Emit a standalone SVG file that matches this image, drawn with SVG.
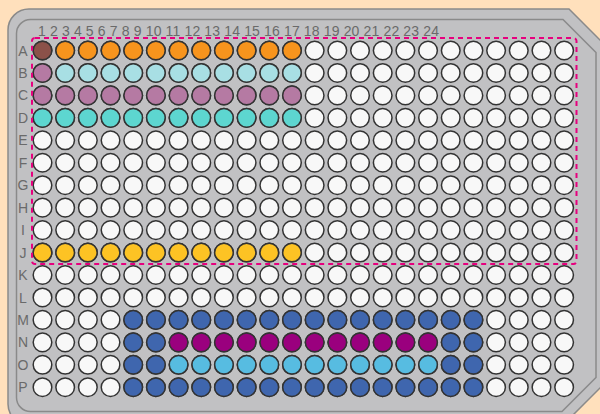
<svg xmlns="http://www.w3.org/2000/svg" width="600" height="414" viewBox="0 0 600 414">
<defs>
<style>
.lbl{font-family:"Liberation Sans","DejaVu Sans",sans-serif;font-size:14px;fill:#6a6a6a}
.rl{text-anchor:middle}
circle{stroke:#333;stroke-width:1.5}
.w{fill:#f8f8f8}.or{fill:#f7941d}.br{fill:#8b5149}.mv{fill:#b57aa3}.lc{fill:#a8dfe4}.tq{fill:#5dd6d0}.gd{fill:#fdc324}.bl{fill:#3f66ae}.pu{fill:#9a007e}.lb{fill:#57bce1}
</style>
<g id="row">
<circle cx="42.5" r="9.3"/><circle cx="65.18" r="9.3"/><circle cx="87.86" r="9.3"/><circle cx="110.54" r="9.3"/><circle cx="133.22" r="9.3"/><circle cx="155.9" r="9.3"/><circle cx="178.58" r="9.3"/><circle cx="201.26" r="9.3"/><circle cx="223.94" r="9.3"/><circle cx="246.62" r="9.3"/><circle cx="269.3" r="9.3"/><circle cx="291.98" r="9.3"/><circle cx="314.66" r="9.3"/><circle cx="337.34" r="9.3"/><circle cx="360.02" r="9.3"/><circle cx="382.7" r="9.3"/><circle cx="405.38" r="9.3"/><circle cx="428.06" r="9.3"/><circle cx="450.74" r="9.3"/><circle cx="473.42" r="9.3"/><circle cx="496.1" r="9.3"/><circle cx="518.78" r="9.3"/><circle cx="541.46" r="9.3"/><circle cx="564.14" r="9.3"/>
</g>
</defs>
<rect width="600" height="414" fill="#ffe0bc"/>
<g id="plate">
<path d="M8,30 A21,21 0 0 1 29,9 L569,9 L612,52 L612,376 L563,425 L29,425 A21,21 0 0 1 8,404 Z" fill="#c1c1c3" stroke="#8a8a8a" stroke-width="1.5"/>
<path d="M16.5,33.5 A14,14 0 0 1 30.5,19.5 L563,19.5 L596,52.5 L596,377.5 L562,411.5 L30.5,411.5 A14,14 0 0 1 16.5,397.5 Z" fill="none" stroke="#8a8a8a" stroke-width="1.5"/>
</g>
<g id="column-labels">
<text class="lbl" x="38" y="35.5" textLength="401" lengthAdjust="spacing">1 2 3 4 5 6 7 8 9 10 11 12 13 14 15 16 17 18 19 20 21 22 23 24</text>
</g>
<g id="row-labels" class="lbl rl">
<text x="23" y="55.5">A</text><text x="23" y="78">B</text><text x="23" y="100.4">C</text><text x="23" y="122.9">D</text><text x="23" y="145.3">E</text><text x="23" y="167.8">F</text><text x="23" y="190.2">G</text><text x="23" y="212.7">H</text><text x="23" y="235.1">I</text><text x="23" y="257.5">J</text><text x="23" y="280">K</text><text x="23" y="302.5">L</text><text x="23" y="324.9">M</text><text x="23" y="347.4">N</text><text x="23" y="369.8">O</text><text x="23" y="392.3">P</text>
</g>
<g id="wells">
<g class="w">
<use href="#row" y="50.5"/><use href="#row" y="72.95"/><use href="#row" y="95.4"/><use href="#row" y="117.85"/><use href="#row" y="140.3"/><use href="#row" y="162.75"/><use href="#row" y="185.2"/><use href="#row" y="207.65"/><use href="#row" y="230.1"/><use href="#row" y="252.55"/><use href="#row" y="275"/><use href="#row" y="297.45"/><use href="#row" y="319.9"/><use href="#row" y="342.35"/><use href="#row" y="364.8"/><use href="#row" y="387.25"/>
</g>
<g id="rowA" transform="translate(0,50.5)">
<circle class="br" cx="42.5" r="9.3"/>
<g class="or"><circle cx="65.18" r="9.3"/><circle cx="87.86" r="9.3"/><circle cx="110.54" r="9.3"/><circle cx="133.22" r="9.3"/><circle cx="155.9" r="9.3"/><circle cx="178.58" r="9.3"/><circle cx="201.26" r="9.3"/><circle cx="223.94" r="9.3"/><circle cx="246.62" r="9.3"/><circle cx="269.3" r="9.3"/><circle cx="291.98" r="9.3"/></g>
</g>
<g id="rowB" transform="translate(0,72.95)">
<circle class="mv" cx="42.5" r="9.3"/>
<g class="lc"><circle cx="65.18" r="9.3"/><circle cx="87.86" r="9.3"/><circle cx="110.54" r="9.3"/><circle cx="133.22" r="9.3"/><circle cx="155.9" r="9.3"/><circle cx="178.58" r="9.3"/><circle cx="201.26" r="9.3"/><circle cx="223.94" r="9.3"/><circle cx="246.62" r="9.3"/><circle cx="269.3" r="9.3"/><circle cx="291.98" r="9.3"/></g>
</g>
<g id="rowC" class="mv" transform="translate(0,95.4)">
<circle cx="42.5" r="9.3"/><circle cx="65.18" r="9.3"/><circle cx="87.86" r="9.3"/><circle cx="110.54" r="9.3"/><circle cx="133.22" r="9.3"/><circle cx="155.9" r="9.3"/><circle cx="178.58" r="9.3"/><circle cx="201.26" r="9.3"/><circle cx="223.94" r="9.3"/><circle cx="246.62" r="9.3"/><circle cx="269.3" r="9.3"/><circle cx="291.98" r="9.3"/>
</g>
<g id="rowD" class="tq" transform="translate(0,117.85)">
<circle cx="42.5" r="9.3"/><circle cx="65.18" r="9.3"/><circle cx="87.86" r="9.3"/><circle cx="110.54" r="9.3"/><circle cx="133.22" r="9.3"/><circle cx="155.9" r="9.3"/><circle cx="178.58" r="9.3"/><circle cx="201.26" r="9.3"/><circle cx="223.94" r="9.3"/><circle cx="246.62" r="9.3"/><circle cx="269.3" r="9.3"/><circle cx="291.98" r="9.3"/>
</g>
<g id="rowJ" class="gd" transform="translate(0,252.55)">
<circle cx="42.5" r="9.3"/><circle cx="65.18" r="9.3"/><circle cx="87.86" r="9.3"/><circle cx="110.54" r="9.3"/><circle cx="133.22" r="9.3"/><circle cx="155.9" r="9.3"/><circle cx="178.58" r="9.3"/><circle cx="201.26" r="9.3"/><circle cx="223.94" r="9.3"/><circle cx="246.62" r="9.3"/><circle cx="269.3" r="9.3"/><circle cx="291.98" r="9.3"/>
</g>
<g id="rowM" class="bl" transform="translate(0,319.9)">
<circle cx="133.22" r="9.3"/><circle cx="155.9" r="9.3"/><circle cx="178.58" r="9.3"/><circle cx="201.26" r="9.3"/><circle cx="223.94" r="9.3"/><circle cx="246.62" r="9.3"/><circle cx="269.3" r="9.3"/><circle cx="291.98" r="9.3"/><circle cx="314.66" r="9.3"/><circle cx="337.34" r="9.3"/><circle cx="360.02" r="9.3"/><circle cx="382.7" r="9.3"/><circle cx="405.38" r="9.3"/><circle cx="428.06" r="9.3"/><circle cx="450.74" r="9.3"/><circle cx="473.42" r="9.3"/>
</g>
<g id="rowN" transform="translate(0,342.35)">
<g class="bl"><circle cx="133.22" r="9.3"/><circle cx="155.9" r="9.3"/><circle cx="450.74" r="9.3"/><circle cx="473.42" r="9.3"/></g>
<g class="pu"><circle cx="178.58" r="9.3"/><circle cx="201.26" r="9.3"/><circle cx="223.94" r="9.3"/><circle cx="246.62" r="9.3"/><circle cx="269.3" r="9.3"/><circle cx="291.98" r="9.3"/><circle cx="314.66" r="9.3"/><circle cx="337.34" r="9.3"/><circle cx="360.02" r="9.3"/><circle cx="382.7" r="9.3"/><circle cx="405.38" r="9.3"/><circle cx="428.06" r="9.3"/></g>
</g>
<g id="rowO" transform="translate(0,364.8)">
<g class="bl"><circle cx="133.22" r="9.3"/><circle cx="155.9" r="9.3"/><circle cx="450.74" r="9.3"/><circle cx="473.42" r="9.3"/></g>
<g class="lb"><circle cx="178.58" r="9.3"/><circle cx="201.26" r="9.3"/><circle cx="223.94" r="9.3"/><circle cx="246.62" r="9.3"/><circle cx="269.3" r="9.3"/><circle cx="291.98" r="9.3"/><circle cx="314.66" r="9.3"/><circle cx="337.34" r="9.3"/><circle cx="360.02" r="9.3"/><circle cx="382.7" r="9.3"/><circle cx="405.38" r="9.3"/><circle cx="428.06" r="9.3"/></g>
</g>
<g id="rowP" class="bl" transform="translate(0,387.25)">
<circle cx="133.22" r="9.3"/><circle cx="155.9" r="9.3"/><circle cx="178.58" r="9.3"/><circle cx="201.26" r="9.3"/><circle cx="223.94" r="9.3"/><circle cx="246.62" r="9.3"/><circle cx="269.3" r="9.3"/><circle cx="291.98" r="9.3"/><circle cx="314.66" r="9.3"/><circle cx="337.34" r="9.3"/><circle cx="360.02" r="9.3"/><circle cx="382.7" r="9.3"/><circle cx="405.38" r="9.3"/><circle cx="428.06" r="9.3"/><circle cx="450.74" r="9.3"/><circle cx="473.42" r="9.3"/>
</g>
</g>
<g id="selection">
<rect x="32" y="38" width="544.5" height="226" rx="3" fill="none" stroke="#e6007e" stroke-width="2" stroke-dasharray="5,4"/>
</g>
</svg>
